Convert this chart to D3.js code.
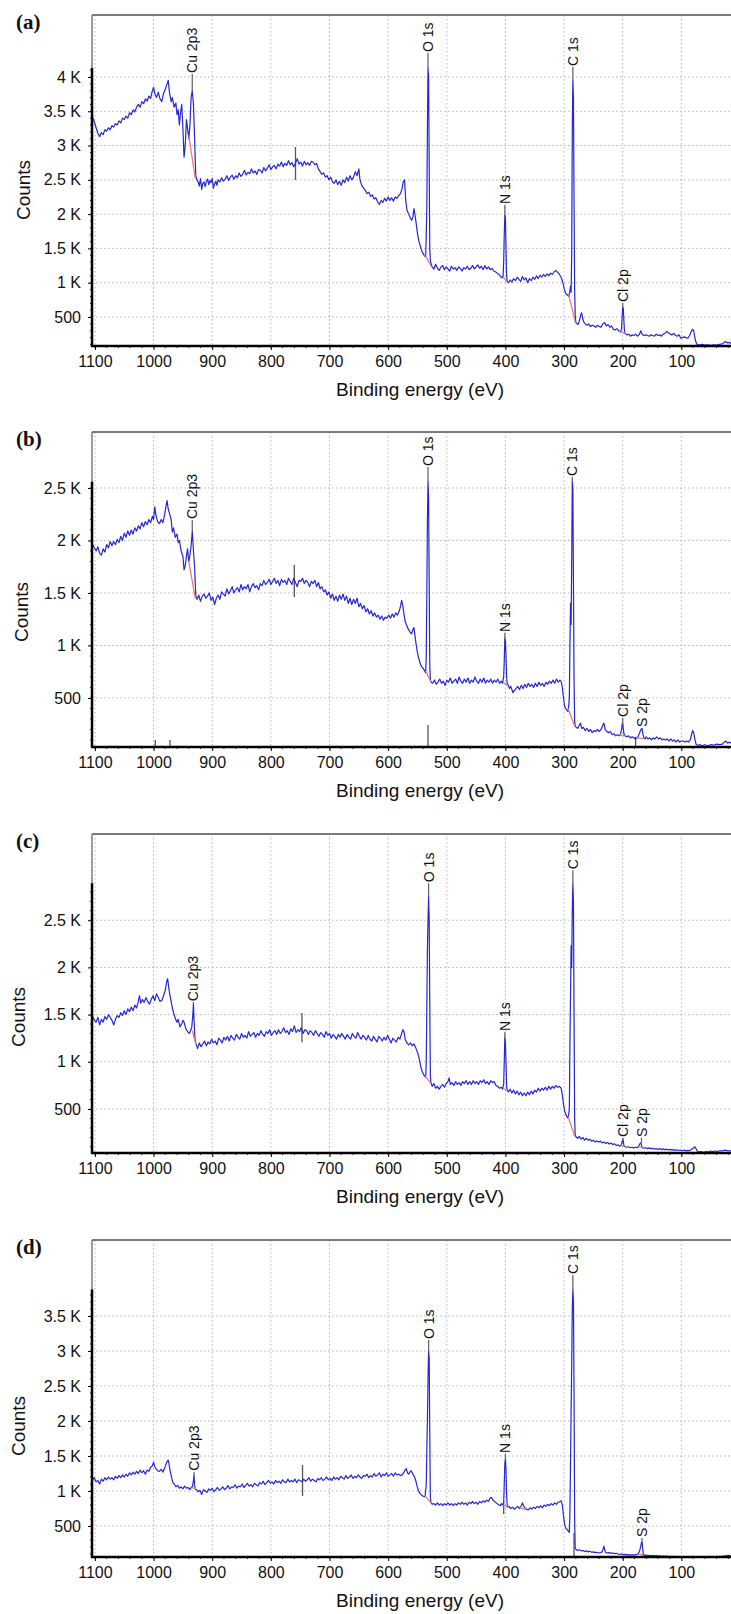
<!DOCTYPE html>
<html>
<head>
<meta charset="utf-8">
<script src="https://cdn.jsdelivr.net/npm/d3@7"></script>
<style>
  body { margin: 0; background: #fff; }
  svg { display: block; }
  text { fill: #111; }
</style>
</head>
<body>
<div class="chart"></div>
<script>
// x axis (binding energy, eV) shared by all four panels
var xTicks = [1100, 1000, 900, 800, 700, 600, 500, 400, 300, 200, 100];

// panel (a)
var yDomainA = [77, 4904];
var yTicksA = [500, 1000, 1500, 2000, 2500, 3000, 3500, 4000];
var specA = [[1104,3420],[1101,3340],[1098,3260],[1095,3180],[1092,3130],[1089,3190],[1086,3160],[1083,3230],[1080,3210],[1077,3260],[1074,3230],[1071,3290],[1068,3270],[1065,3320],[1062,3300],[1059,3360],[1056,3330],[1053,3400],[1050,3380],[1047,3430],[1044,3400],[1041,3480],[1038,3450],[1035,3520],[1032,3490],[1029,3560],[1026,3600],[1023,3560],[1020,3640],[1017,3610],[1014,3680],[1011,3650],[1008,3720],[1005,3690],[1002,3800],[1000,3850],[998,3760],[995,3700],[992,3780],[989,3680],[986,3640],[983,3760],[980,3820],[977,3900],[975,3950],[973,3780],[970,3640],[968,3700],[965,3560],[962,3620],[960,3450],[958,3520],[956,3300],[954,3480],[952,3600],[950,3250],[948,2830],[946,3000],[944,3380],[942,3250],[940,3100],[938,3300],[936,3700],[934,3800],[932,3600],[930,3100],[929,2800],[928,2560],[926,2500],[924,2470],[922,2410],[920,2520],[918,2360],[916,2450],[914,2470],[912,2400],[910,2480],[908,2510],[906,2430],[904,2490],[902,2460],[900,2520],[898,2380],[896,2440],[894,2480],[892,2420],[890,2500],[887,2470],[884,2530],[881,2480],[878,2510],[875,2560],[872,2490],[869,2540],[866,2570],[863,2510],[860,2560],[857,2530],[854,2600],[851,2550],[848,2580],[845,2640],[842,2570],[839,2610],[836,2590],[833,2660],[830,2600],[827,2630],[824,2580],[821,2650],[818,2640],[815,2600],[812,2680],[809,2630],[806,2670],[803,2720],[800,2650],[797,2690],[794,2710],[791,2660],[788,2730],[785,2700],[782,2760],[779,2690],[776,2740],[773,2710],[770,2780],[767,2720],[764,2750],[761,2690],[758,2740],[755,2810],[752,2730],[749,2760],[746,2700],[743,2770],[740,2720],[737,2750],[734,2710],[731,2770],[728,2760],[725,2720],[722,2740],[719,2660],[716,2620],[713,2580],[710,2600],[707,2540],[704,2560],[701,2500],[698,2540],[695,2470],[692,2450],[689,2500],[686,2430],[683,2480],[680,2420],[677,2500],[674,2460],[671,2540],[668,2480],[665,2560],[662,2500],[659,2540],[656,2620],[653,2560],[650,2660],[648,2500],[645,2420],[642,2380],[639,2350],[636,2300],[633,2320],[630,2260],[627,2280],[624,2220],[621,2240],[618,2180],[615,2140],[612,2200],[609,2170],[606,2230],[603,2190],[600,2250],[597,2200],[594,2240],[591,2190],[588,2250],[585,2230],[582,2270],[579,2300],[576,2380],[574,2480],[572,2500],[570,2200],[568,2060],[565,2000],[562,1940],[560,1910],[558,1950],[556,2080],[554,1980],[552,1850],[550,1720],[548,1620],[546,1560],[544,1500],[542,1450],[540,1420],[538,1390],[536,1380],[535,1700],[534,2100],[533,3300],[532,4130],[531,4000],[530,2700],[529,1500],[528,1330],[527,1280],[525,1230],[522,1200],[519,1270],[516,1210],[513,1180],[510,1230],[507,1250],[504,1190],[501,1230],[498,1200],[495,1170],[492,1240],[489,1200],[486,1220],[483,1180],[480,1230],[477,1210],[474,1170],[471,1220],[468,1200],[465,1240],[462,1190],[459,1210],[456,1250],[453,1200],[450,1230],[447,1260],[444,1210],[441,1240],[438,1190],[435,1250],[432,1200],[429,1230],[426,1190],[423,1210],[420,1170],[417,1160],[414,1140],[411,1120],[408,1090],[406,1070],[404,1100],[403,1300],[402,1700],[401,1990],[400,1950],[399,1500],[398,1100],[397,1020],[395,1000],[392,1040],[389,1010],[386,1060],[383,1030],[380,1080],[377,1050],[374,1020],[371,1090],[368,1040],[365,1070],[362,1000],[359,1060],[356,1030],[353,1080],[350,1050],[347,1100],[344,1060],[341,1110],[338,1080],[335,1120],[332,1090],[329,1130],[326,1100],[323,1140],[320,1120],[317,1160],[314,1180],[311,1150],[308,1120],[305,1080],[302,1000],[300,920],[298,860],[296,830],[294,820],[292,800],[290,880],[289,950],[288,860],[287,1400],[286,3200],[285,3950],[284,3700],[283,2200],[282,900],[281,520],[280,420],[278,400],[276,390],[274,440],[272,520],[270,560],[268,470],[266,420],[264,400],[261,380],[258,400],[255,360],[252,380],[249,370],[246,350],[243,380],[240,360],[237,350],[234,400],[231,420],[228,370],[225,390],[222,350],[219,370],[216,320],[213,310],[210,330],[207,300],[204,280],[202,320],[201,500],[200,650],[199,620],[198,450],[197,300],[196,260],[193,240],[190,250],[187,220],[184,240],[181,230],[178,250],[175,220],[172,240],[169,300],[167,250],[164,230],[161,240],[158,230],[155,220],[152,240],[149,230],[146,220],[143,250],[140,230],[137,240],[134,220],[131,250],[128,260],[125,290],[122,270],[119,250],[116,240],[113,260],[110,230],[107,220],[104,240],[101,190],[98,200],[95,210],[92,200],[89,190],[86,230],[83,290],[81,320],[79,300],[77,200],[75,130],[73,100],[70,90],[65,100],[60,90],[55,95],[50,88],[45,95],[40,90],[35,100],[30,110],[27,130],[24,140],[21,120],[18,130],[15,110]];
var labelsA = [["Cu 2p3", 934, 3800, 4044], ["O 1s", 532, 4130, 4350], ["N 1s", 401, 1990, 2134], ["C 1s", 285, 3950, 4146], ["Cl 2p", 200, 650, 704]];
var bgA = [[940, 3150, 929, 2520], [537, 1400, 527, 1250], [404, 1090, 398, 1010], [292, 820, 281, 430], [206, 300, 195, 250]];
var marksA = [[758, 2498, 2979]];

// panel (b)
var yDomainB = [33, 3033];
var yTicksB = [500, 1000, 1500, 2000, 2500];
var specB = [[1104,1960],[1101,1930],[1098,1900],[1095,1940],[1092,1880],[1089,1860],[1086,1920],[1083,1890],[1080,1960],[1077,1930],[1074,1990],[1071,1950],[1068,1990],[1065,1960],[1062,2010],[1059,1980],[1056,2040],[1053,2000],[1050,2070],[1047,2030],[1044,2090],[1041,2050],[1038,2100],[1035,2060],[1032,2120],[1029,2090],[1026,2140],[1023,2110],[1020,2170],[1017,2130],[1014,2180],[1011,2150],[1008,2200],[1005,2170],[1002,2230],[1000,2200],[998,2320],[996,2240],[993,2180],[990,2160],[987,2200],[984,2170],[981,2250],[979,2320],[977,2380],[975,2300],[973,2260],[970,2200],[968,2080],[966,2120],[963,2030],[960,2060],[958,1980],[956,2000],[953,1900],[950,1850],[948,1720],[946,1760],[944,1850],[942,1920],[940,1800],[938,1860],[936,1950],[934,2090],[932,1900],[930,1750],[929,1600],[928,1470],[926,1440],[923,1480],[920,1420],[917,1470],[914,1490],[911,1450],[908,1470],[905,1500],[902,1430],[899,1460],[896,1390],[893,1450],[890,1480],[887,1440],[884,1510],[881,1490],[878,1470],[875,1540],[872,1490],[869,1520],[866,1560],[863,1500],[860,1530],[857,1550],[854,1510],[851,1580],[848,1530],[845,1560],[842,1540],[839,1580],[836,1510],[833,1560],[830,1590],[827,1550],[824,1570],[821,1530],[818,1590],[815,1570],[812,1620],[809,1580],[806,1600],[803,1630],[800,1580],[797,1610],[794,1640],[791,1590],[788,1620],[785,1570],[782,1630],[779,1600],[776,1620],[773,1580],[770,1640],[767,1610],[764,1580],[761,1640],[758,1600],[755,1560],[752,1620],[749,1610],[746,1640],[743,1590],[740,1620],[737,1600],[734,1560],[731,1610],[728,1590],[725,1620],[722,1560],[719,1600],[716,1540],[713,1560],[710,1510],[707,1530],[704,1480],[701,1510],[698,1450],[695,1490],[692,1430],[689,1470],[686,1420],[683,1480],[680,1440],[677,1490],[674,1430],[671,1470],[668,1400],[665,1450],[662,1390],[659,1440],[656,1400],[653,1450],[650,1370],[647,1400],[644,1350],[641,1380],[638,1320],[635,1350],[632,1300],[629,1330],[626,1280],[623,1310],[620,1270],[617,1290],[614,1250],[611,1280],[608,1240],[605,1270],[602,1260],[599,1290],[596,1260],[593,1300],[590,1270],[587,1310],[584,1290],[581,1330],[579,1370],[577,1430],[575,1380],[573,1300],[571,1230],[569,1200],[566,1160],[563,1130],[560,1110],[558,1150],[556,1170],[554,1080],[552,1000],[550,930],[548,880],[546,840],[544,810],[542,790],[540,780],[538,760],[536,740],[535,900],[534,1500],[533,2200],[532,2560],[531,2400],[530,1600],[529,800],[528,680],[527,650],[524,640],[521,670],[518,630],[515,650],[512,680],[509,640],[506,660],[503,620],[500,670],[497,650],[494,690],[491,640],[488,660],[485,680],[482,640],[479,700],[476,660],[473,640],[470,680],[467,650],[464,690],[461,640],[458,670],[455,650],[452,700],[449,660],[446,640],[443,680],[440,650],[437,690],[434,640],[431,670],[428,650],[425,680],[422,640],[419,670],[416,650],[413,680],[410,640],[407,660],[405,640],[403,700],[402,850],[401,1070],[400,1050],[399,900],[398,700],[397,640],[395,620],[393,590],[391,610],[389,580],[387,550],[385,570],[382,590],[379,610],[376,580],[373,620],[370,590],[367,630],[364,600],[361,640],[358,610],[355,630],[352,600],[349,640],[346,610],[343,650],[340,620],[337,640],[334,610],[331,650],[328,630],[325,660],[322,640],[319,670],[316,640],[313,680],[310,650],[307,670],[305,660],[303,600],[301,500],[299,420],[297,400],[295,380],[293,370],[291,500],[290,1000],[289,1400],[288,1200],[287,1800],[286,2560],[285,2500],[284,1600],[283,700],[282,280],[281,230],[279,220],[277,210],[274,240],[272,260],[270,210],[267,220],[264,190],[261,210],[258,180],[255,200],[252,170],[249,190],[246,180],[243,200],[240,180],[237,200],[234,240],[232,260],[230,200],[227,180],[224,170],[221,180],[218,150],[215,160],[212,140],[209,150],[206,140],[204,150],[202,200],[201,250],[200,260],[199,210],[198,160],[196,140],[193,130],[190,140],[187,120],[184,130],[181,120],[178,110],[176,120],[174,130],[171,170],[169,200],[167,210],[166,170],[164,120],[162,110],[160,130],[157,110],[154,120],[151,100],[148,120],[145,110],[142,130],[139,110],[136,120],[133,100],[130,110],[127,100],[124,110],[121,90],[118,110],[115,90],[112,100],[109,80],[106,100],[103,80],[100,90],[97,90],[94,80],[91,90],[88,80],[85,100],[83,140],[81,190],[79,170],[77,110],[75,60],[72,50],[68,55],[64,45],[60,55],[55,45],[50,55],[45,50],[40,60],[35,55],[30,60],[27,80],[24,90],[21,70],[18,80],[15,70]];
var labelsB = [["Cu 2p3", 934, 2090, 2195], ["O 1s", 532, 2560, 2700], ["N 1s", 401, 1070, 1119], ["C 1s", 286, 2560, 2605], ["Cl 2p", 200, 260, 310], ["S 2p", 167, 210, 214]];
var bgB = [[940, 1800, 929, 1450], [536, 760, 527, 650], [404, 650, 397, 620], [293, 400, 282, 230], [205, 150, 196, 140], [176, 120, 165, 115]];
var marksB = [[760, 1462, 1767], [997, 33, 100], [972, 33, 100], [532, 33, 243], [178, 33, 130]];

// panel (c)
var yDomainC = [34, 3413];
var yTicksC = [500, 1000, 1500, 2000, 2500];
var specC = [[1104,1480],[1101,1440],[1098,1420],[1095,1470],[1092,1390],[1089,1450],[1086,1420],[1083,1480],[1080,1450],[1077,1500],[1074,1470],[1071,1440],[1068,1390],[1065,1450],[1062,1490],[1059,1470],[1056,1520],[1053,1490],[1050,1540],[1047,1500],[1044,1560],[1041,1530],[1038,1580],[1035,1540],[1032,1600],[1029,1570],[1026,1640],[1024,1700],[1022,1620],[1019,1660],[1016,1630],[1013,1680],[1010,1640],[1007,1610],[1004,1660],[1001,1700],[998,1650],[995,1720],[992,1680],[989,1640],[986,1650],[983,1700],[980,1760],[978,1840],[976,1880],[974,1780],[972,1700],[970,1640],[968,1570],[966,1520],[963,1460],[960,1420],[958,1450],[955,1370],[952,1400],[950,1440],[948,1420],[945,1350],[942,1320],[939,1300],[937,1330],[935,1360],[933,1500],[932,1620],[931,1450],[930,1300],[929,1220],[927,1180],[925,1140],[922,1200],[919,1160],[916,1190],[913,1220],[910,1170],[907,1210],[904,1190],[901,1240],[898,1200],[895,1220],[892,1180],[889,1250],[886,1230],[883,1200],[880,1260],[877,1230],[874,1270],[871,1220],[868,1280],[865,1250],[862,1230],[859,1290],[856,1260],[853,1240],[850,1300],[847,1260],[844,1280],[841,1250],[838,1320],[835,1270],[832,1290],[829,1310],[826,1260],[823,1300],[820,1280],[817,1330],[814,1290],[811,1270],[808,1320],[805,1300],[802,1340],[799,1280],[796,1310],[793,1330],[790,1290],[787,1340],[784,1300],[781,1320],[778,1360],[775,1310],[772,1330],[769,1290],[766,1350],[763,1320],[760,1380],[757,1310],[754,1340],[751,1320],[748,1360],[745,1300],[742,1340],[739,1330],[736,1290],[733,1330],[730,1310],[727,1280],[724,1330],[721,1300],[718,1270],[715,1310],[712,1290],[709,1260],[706,1320],[703,1280],[700,1300],[697,1250],[694,1290],[691,1270],[688,1240],[685,1290],[682,1260],[679,1300],[676,1270],[673,1240],[670,1290],[667,1260],[664,1240],[661,1300],[658,1270],[655,1250],[652,1310],[649,1270],[646,1240],[643,1280],[640,1260],[637,1230],[634,1280],[631,1240],[628,1220],[625,1270],[622,1240],[619,1210],[616,1270],[613,1250],[610,1220],[607,1260],[604,1230],[601,1280],[598,1240],[595,1200],[592,1250],[589,1230],[586,1210],[583,1260],[580,1240],[577,1300],[575,1340],[573,1320],[571,1240],[568,1200],[565,1180],[562,1200],[559,1170],[556,1190],[553,1150],[550,1100],[548,1060],[546,1000],[544,940],[542,900],[540,870],[538,850],[536,840],[535,1000],[534,1600],[533,2200],[532,2500],[531,2750],[530,2500],[529,1600],[528,850],[527,780],[525,740],[522,770],[519,720],[516,740],[513,710],[510,740],[507,760],[504,730],[501,770],[498,790],[496,830],[494,760],[491,780],[488,750],[485,790],[482,760],[479,780],[476,750],[473,790],[470,770],[467,800],[464,760],[461,790],[458,760],[455,800],[452,770],[449,790],[446,760],[443,800],[440,780],[437,810],[434,770],[431,790],[428,760],[425,800],[422,780],[419,790],[416,750],[413,740],[410,720],[407,730],[405,710],[403,760],[402,1000],[401,1265],[400,1200],[399,1000],[398,750],[397,700],[395,680],[392,710],[389,670],[386,700],[383,660],[380,690],[377,650],[374,680],[371,640],[368,670],[365,640],[362,680],[359,650],[356,690],[353,660],[350,700],[347,680],[344,720],[341,690],[338,720],[335,700],[332,730],[329,700],[326,740],[323,710],[320,740],[317,720],[314,750],[311,730],[308,740],[305,720],[303,650],[301,550],[299,480],[297,440],[295,420],[293,400],[291,500],[290,1200],[289,1700],[288,2230],[287,2000],[286,2600],[285,2890],[284,2700],[283,1500],[282,400],[281,220],[279,200],[277,190],[274,210],[271,180],[268,200],[265,170],[262,190],[259,170],[256,180],[253,160],[250,170],[247,150],[244,160],[241,150],[238,160],[235,140],[232,150],[229,135],[226,145],[223,130],[220,140],[217,125],[214,130],[211,115],[208,120],[205,105],[203,115],[201,150],[200,175],[199,160],[198,110],[196,100],[193,95],[190,100],[187,90],[184,95],[181,88],[178,95],[175,90],[173,105],[171,130],[169,140],[168,120],[167,90],[164,85],[161,90],[158,80],[155,88],[152,78],[149,85],[146,75],[143,82],[140,72],[137,80],[134,70],[131,78],[128,68],[125,75],[122,66],[119,72],[116,64],[113,70],[110,62],[107,68],[104,60],[101,66],[98,58],[95,64],[92,56],[89,62],[86,58],[83,70],[80,85],[77,100],[75,80],[73,55],[70,45],[66,50],[62,42],[58,50],[54,45],[50,55],[46,48],[42,55],[38,50],[34,60],[30,55],[26,65],[22,60],[18,55],[15,60]];
var labelsC = [["Cu 2p3", 932, 1620, 1632], ["O 1s", 531, 2750, 2892], ["N 1s", 401, 1265, 1315], ["C 1s", 285, 2890, 3029], ["Cl 2p", 199, 175, 193], ["S 2p", 168, 140, 193]];
var bgC = [[934, 1330, 928, 1190], [537, 850, 527, 770], [404, 720, 397, 700], [293, 420, 282, 210], [203, 115, 197, 105], [172, 100, 166, 90]];
var marksC = [[747, 1208, 1516]];

// panel (d)
var yDomainD = [57, 4586];
var yTicksD = [500, 1000, 1500, 2000, 2500, 3000, 3500];
var specD = [[1104,1160],[1101,1190],[1098,1130],[1095,1150],[1092,1100],[1089,1170],[1086,1140],[1083,1190],[1080,1160],[1077,1200],[1074,1170],[1071,1190],[1068,1160],[1065,1210],[1062,1180],[1059,1220],[1056,1190],[1053,1230],[1050,1200],[1047,1240],[1044,1210],[1041,1260],[1038,1230],[1035,1270],[1032,1240],[1029,1280],[1026,1250],[1023,1300],[1020,1260],[1017,1290],[1014,1240],[1011,1300],[1008,1280],[1005,1340],[1002,1360],[1000,1410],[998,1350],[996,1320],[993,1290],[990,1280],[987,1310],[984,1270],[981,1330],[979,1380],[977,1420],[975,1440],[973,1350],[971,1260],[969,1180],[967,1120],[965,1100],[962,1060],[959,1080],[956,1040],[953,1060],[950,1030],[947,1070],[944,1040],[941,1050],[938,1020],[936,1050],[934,1060],[932,1150],[931,1229],[930,1080],[929,1030],[927,1020],[924,990],[921,1010],[918,950],[915,1020],[912,1000],[909,980],[906,1030],[903,1010],[900,1040],[897,990],[894,1020],[891,1050],[888,1010],[885,1030],[882,1060],[879,1020],[876,1040],[873,1080],[870,1030],[867,1060],[864,1050],[861,1090],[858,1040],[855,1070],[852,1060],[849,1100],[846,1050],[843,1080],[840,1110],[837,1070],[834,1090],[831,1060],[828,1110],[825,1090],[822,1070],[819,1120],[816,1100],[813,1140],[810,1090],[807,1120],[804,1150],[801,1110],[798,1130],[795,1100],[792,1150],[789,1120],[786,1140],[783,1110],[780,1160],[777,1130],[774,1120],[771,1170],[768,1130],[765,1150],[762,1130],[759,1170],[756,1120],[753,1160],[750,1150],[747,1130],[744,1170],[741,1140],[738,1160],[735,1190],[732,1140],[729,1170],[726,1150],[723,1130],[720,1180],[717,1160],[714,1190],[711,1150],[708,1170],[705,1200],[702,1160],[699,1180],[696,1150],[693,1200],[690,1170],[687,1190],[684,1160],[681,1210],[678,1190],[675,1170],[672,1220],[669,1180],[666,1200],[663,1230],[660,1180],[657,1210],[654,1190],[651,1230],[648,1200],[645,1180],[642,1220],[639,1210],[636,1240],[633,1190],[630,1220],[627,1200],[624,1250],[621,1210],[618,1230],[615,1260],[612,1200],[609,1240],[606,1220],[603,1260],[600,1210],[597,1230],[594,1250],[591,1210],[588,1260],[585,1230],[582,1240],[579,1220],[576,1230],[573,1270],[571,1300],[569,1320],[567,1260],[565,1240],[563,1270],[561,1290],[559,1260],[557,1230],[555,1200],[553,1150],[551,1080],[549,1020],[547,980],[545,960],[543,940],[541,930],[539,920],[537,920],[535,1100],[534,1600],[533,2030],[532,2600],[531,3000],[530,2900],[529,1800],[528,900],[527,840],[525,810],[522,820],[519,800],[516,830],[513,800],[510,820],[507,790],[504,820],[501,800],[498,830],[495,800],[492,820],[489,790],[486,820],[483,800],[480,830],[477,810],[474,840],[471,810],[468,830],[465,800],[462,840],[459,820],[456,850],[453,820],[450,840],[447,810],[444,850],[441,830],[438,860],[435,840],[432,870],[429,850],[426,900],[424,910],[422,880],[420,860],[417,840],[414,820],[411,800],[409,790],[407,820],[405,800],[403,830],[402,1100],[401,1400],[400,1460],[399,1300],[398,950],[397,800],[396,770],[394,780],[391,750],[388,770],[385,740],[382,760],[379,780],[376,750],[373,790],[371,830],[369,790],[367,760],[364,740],[361,730],[358,760],[355,740],[352,770],[349,750],[346,780],[343,760],[340,790],[337,760],[334,800],[331,780],[328,810],[325,790],[322,820],[319,800],[316,830],[313,810],[310,840],[307,850],[305,860],[303,800],[301,650],[299,520],[297,470],[295,450],[293,430],[291,410],[290,700],[289,1400],[288,2130],[287,2800],[286,3600],[285,3880],[284,3700],[283,2400],[282,600],[281,180],[279,160],[277,150],[274,160],[271,145],[268,150],[265,135],[262,145],[259,130],[256,140],[253,125],[250,130],[247,120],[244,125],[241,115],[238,120],[235,130],[233,180],[232,213],[231,170],[229,120],[226,115],[223,120],[220,110],[217,115],[214,105],[211,110],[208,100],[205,95],[202,100],[199,90],[196,95],[193,88],[190,92],[187,85],[184,90],[181,85],[178,90],[175,95],[173,110],[171,150],[169,220],[168,265],[167,270],[166,180],[165,100],[163,80],[160,85],[157,78],[154,82],[151,75],[148,80],[145,72],[142,78],[139,70],[136,75],[133,68],[130,72],[127,66],[124,70],[121,64],[118,68],[115,62],[112,66],[109,62],[106,64],[103,60],[100,64],[96,60],[92,62],[88,58],[84,62],[80,60],[76,63],[72,60],[68,62],[64,58],[60,62],[56,60],[52,63],[48,60],[44,64],[40,62],[36,66],[32,64],[28,70],[24,75],[20,80],[16,78]];
var labelsD = [["Cu 2p3", 931, 1229, 1276], ["O 1s", 531, 3000, 3157], ["N 1s", 400, 1460, 1530], ["C 1s", 285, 3880, 4086], ["S 2p", 167, 270, 329]];
var bgD = [[935, 1050, 928, 1030], [537, 930, 527, 830], [404, 800, 396, 770], [376, 760, 365, 740], [172, 100, 164, 80]];
var marksD = [[746, 929, 1371], [403, 671, 843], [283, 57, 400]];

;(function(window, document, undefined) {

	'use strict';

	var sans = '"Liberation Sans", Arial, sans-serif';
	var serif = '"Liberation Serif", "Times New Roman", serif';

	var panels = [
		{ tag: '(a)', top: 15, bottom: 346, dom: yDomainA, ticks: yTicksA, spec: specA, labels: labelsA, bg: bgA, marks: marksA, cx: 23, cy: 190 },
		{ tag: '(b)', top: 432, bottom: 747, dom: yDomainB, ticks: yTicksB, spec: specB, labels: labelsB, bg: bgB, marks: marksB, cx: 21, cy: 612 },
		{ tag: '(c)', top: 834, bottom: 1153, dom: yDomainC, ticks: yTicksC, spec: specC, labels: labelsC, bg: bgC, marks: marksC, cx: 18, cy: 1017 },
		{ tag: '(d)', top: 1240, bottom: 1557, dom: yDomainD, ticks: yTicksD, spec: specD, labels: labelsD, bg: bgD, marks: marksD, cx: 18, cy: 1426 }
	];

	var left = 92, right = 740;
	var svg = d3.select('.chart')
		.append('svg')
		.attr('width', 731)
		.attr('height', 1614);

	var x = d3.scaleLinear().domain([1105, 0]).range([left, right]);

	function fmt(d) {
		return d >= 1000 ? (d / 1000) + ' K' : d;
	}

	function render(p) {
		var y = d3.scaleLinear().domain(p.dom).range([p.bottom, p.top]);
		var g = svg.append('g');
		var maxC = d3.max(p.spec, function(d) { return d[1]; });

		// dotted grid
		g.selectAll('line.vg')
			.data(xTicks)
			.enter()
			.append('line')
			.attr('x1', function(d) { return x(d); })
			.attr('x2', function(d) { return x(d); })
			.attr('y1', p.top)
			.attr('y2', p.bottom)
			.attr('stroke', '#b4b4b4')
			.attr('stroke-dasharray', '1.5,2.5');
		g.selectAll('line.hg')
			.data(p.ticks)
			.enter()
			.append('line')
			.attr('x1', left)
			.attr('x2', right)
			.attr('y1', function(d) { return y(d); })
			.attr('y2', function(d) { return y(d); })
			.attr('stroke', '#b4b4b4')
			.attr('stroke-dasharray', '1.5,2.5');

		// gray frame
		g.append('line')
			.attr('x1', left).attr('x2', right)
			.attr('y1', p.top).attr('y2', p.top)
			.attr('stroke', '#7a7a7a').attr('stroke-width', 2);
		g.append('line')
			.attr('x1', left).attr('x2', left)
			.attr('y1', p.top).attr('y2', p.bottom)
			.attr('stroke', '#7a7a7a').attr('stroke-width', 1.5);

		// peak-id marks
		g.selectAll('line.mk')
			.data(p.marks)
			.enter()
			.append('line')
			.attr('x1', function(d) { return x(d[0]); })
			.attr('x2', function(d) { return x(d[0]); })
			.attr('y1', function(d) { return y(d[1]); })
			.attr('y2', function(d) { return y(d[2]); })
			.attr('stroke', '#555')
			.attr('stroke-width', 1.3);

		// spectrum
		var line = d3.line()
			.x(function(d) { return x(d[0]); })
			.y(function(d) { return y(d[1]); });
		g.append('path')
			.datum(p.spec)
			.attr('d', line)
			.attr('fill', 'none')
			.attr('stroke', '#2626d4')
			.attr('stroke-width', 1.2)
			.attr('stroke-linejoin', 'round');

		// backgrounds under the peaks
		g.selectAll('line.bg')
			.data(p.bg)
			.enter()
			.append('line')
			.attr('x1', function(d) { return x(d[0]); })
			.attr('y1', function(d) { return y(d[1]); })
			.attr('x2', function(d) { return x(d[2]); })
			.attr('y2', function(d) { return y(d[3]); })
			.attr('stroke', '#ee7a6e')
			.attr('stroke-width', 1.3);

		// peak labels
		g.selectAll('line.pk')
			.data(p.labels)
			.enter()
			.append('line')
			.attr('x1', function(d) { return x(d[1]); })
			.attr('x2', function(d) { return x(d[1]); })
			.attr('y1', function(d) { return y(d[2]); })
			.attr('y2', function(d) { return y(d[3]); })
			.attr('stroke', '#6a6a6a')
			.attr('stroke-width', 1.3);
		g.selectAll('text.pk')
			.data(p.labels)
			.enter()
			.append('text')
			.attr('transform', function(d) {
				return 'translate(' + x(d[1]) + ',' + (y(d[3]) - 1) + ') rotate(-90)';
			})
			.attr('dy', '0.36em')
			.style('font-family', sans)
			.style('font-size', '14px')
			.text(function(d) { return d[0]; });

		// axes
		var yAxis = d3.axisLeft(y).tickValues(p.ticks).tickFormat(fmt).tickSize(4).tickPadding(7);
		var ya = g.append('g').attr('transform', 'translate(' + left + ',0)').call(yAxis);
		ya.select('.domain').remove();
		ya.selectAll('text').style('font-size', '16px').style('font-family', sans);
		var yMinor = d3.range(100, maxC, 100);
		g.selectAll('line.ym')
			.data(yMinor)
			.enter()
			.append('line')
			.attr('x1', left - 2).attr('x2', left)
			.attr('y1', function(d) { return y(d); })
			.attr('y2', function(d) { return y(d); })
			.attr('stroke', '#222');

		var xAxis = d3.axisBottom(x).tickValues(xTicks).tickFormat(d3.format('d')).tickSize(4).tickPadding(6);
		var xa = g.append('g').attr('transform', 'translate(0,' + p.bottom + ')').call(xAxis);
		xa.select('.domain').remove();
		xa.selectAll('text').style('font-size', '16px').style('font-family', sans);
		g.selectAll('line.xm')
			.data(d3.range(20, 1105, 20))
			.enter()
			.append('line')
			.attr('x1', function(d) { return x(d); })
			.attr('x2', function(d) { return x(d); })
			.attr('y1', p.bottom).attr('y2', p.bottom + 2)
			.attr('stroke', '#222');

		g.append('line')
			.attr('x1', left).attr('x2', left)
			.attr('y1', p.bottom + 1).attr('y2', y(maxC))
			.attr('stroke', '#000').attr('stroke-width', 2.5);
		g.append('line')
			.attr('x1', left - 1).attr('x2', right)
			.attr('y1', p.bottom).attr('y2', p.bottom)
			.attr('stroke', '#000').attr('stroke-width', 2.5);

		// titles
		g.append('text')
			.attr('transform', 'translate(' + p.cx + ',' + p.cy + ') rotate(-90)')
			.attr('text-anchor', 'middle')
			.attr('dy', '0.35em')
			.style('font-family', sans)
			.style('font-size', '19px')
			.text('Counts');
		g.append('text')
			.attr('x', 420)
			.attr('y', p.bottom + 43)
			.attr('dy', '0.35em')
			.attr('text-anchor', 'middle')
			.style('font-family', sans)
			.style('font-size', '19px')
			.text('Binding energy (eV)');
		g.append('text')
			.attr('x', 16)
			.attr('y', p.top + 14)
			.style('font-family', serif)
			.style('font-weight', 'bold')
			.style('font-size', '21px')
			.text(p.tag);
	}

	panels.forEach(render);

})(window, document);
</script>
</body>
</html>
